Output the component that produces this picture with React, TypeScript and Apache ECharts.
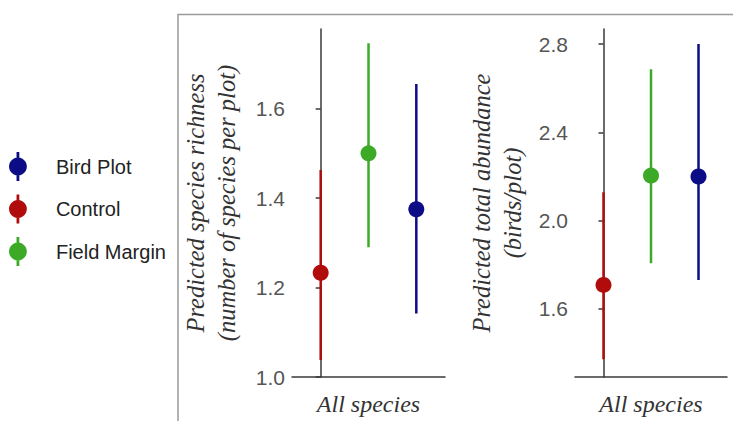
import React, { useEffect, useRef } from "react";
import * as echarts from "echarts";

const groups = ["Bird Plot", "Control", "Field Margin"];
const groupColors = ["#0c0c86", "#b00c0c", "#3caa26"];
const dodgePos = [2, 0, 1];

const richnessMean = [1.375, 1.233, 1.5];
const richnessLow = [1.142, 1.038, 1.29];
const richnessHigh = [1.655, 1.463, 1.746];

const abundanceMean = [2.2, 1.709, 2.204];
const abundanceLow = [1.731, 1.372, 1.807];
const abundanceHigh = [2.8, 2.129, 2.686];

const richnessTicks = [1.0, 1.2, 1.4, 1.6];
const abundanceTicks = [1.6, 2.0, 2.4, 2.8];

const xCategory = "All species";
const richnessTitle = "Predicted species richness\n(number of species per plot)";
const abundanceTitle = "Predicted total abundance\n(birds/plot)";

const legendIcon =
  "path://M6.75,0 L9.25,0 L9.25,26 L6.75,26 Z M8,5 A8,8 0 1 1 7.999,5 Z";

export default function App() {
  const ref = useRef<HTMLDivElement>(null);
  useEffect(() => {
    if (!ref.current) return;
    const chart = echarts.init(ref.current, null, { renderer: "svg" });

    const sans = "Liberation Sans";
    const serif = "Liberation Serif";
    const axisColor = "#3a3a3a";

    const makeX = (gridIndex: number) => ({
      type: "value",
      gridIndex,
      min: -0.6,
      max: 2.6,
      name: xCategory,
      nameLocation: "middle",
      nameGap: 15,
      nameTextStyle: {
        fontFamily: serif,
        fontStyle: "italic",
        fontSize: 24,
        color: "#333333",
      },
      axisLine: { show: true, lineStyle: { color: axisColor, width: 1.5 } },
      axisTick: { show: false },
      axisLabel: { show: false },
      splitLine: { show: false },
    });

    const makeY = (
      gridIndex: number,
      min: number,
      max: number,
      ticks: number[],
      title: string,
      nameGap: number
    ) => ({
      type: "value",
      gridIndex,
      min,
      max,
      name: title,
      nameLocation: "middle",
      nameRotate: 90,
      nameGap,
      nameTextStyle: {
        fontFamily: serif,
        fontStyle: "italic",
        fontSize: 24.5,
        lineHeight: 31,
        color: "#333333",
        align: "center",
      },
      axisLine: { show: true, lineStyle: { color: axisColor, width: 1.5 } },
      axisTick: {
        show: true,
        length: 5,
        customValues: ticks,
        lineStyle: { color: axisColor, width: 1.5 },
      },
      axisLabel: {
        show: true,
        customValues: ticks,
        margin: 7,
        fontFamily: sans,
        fontSize: 21,
        color: "#555555",
        formatter: (v: number) => v.toFixed(1),
      },
      splitLine: { show: false },
    });

    const series: any[] = [];
    const panels = [
      { mean: richnessMean, low: richnessLow, high: richnessHigh },
      { mean: abundanceMean, low: abundanceLow, high: abundanceHigh },
    ];
    panels.forEach((p, pi) => {
      groups.forEach((g, gi) => {
        series.push({
          type: "scatter",
          name: g,
          xAxisIndex: pi,
          yAxisIndex: pi,
          data: [[dodgePos[gi], p.mean[gi]]],
          symbol: "circle",
          symbolSize: 16,
          z: 3,
          itemStyle: { color: groupColors[gi], opacity: 1 },
          silent: true,
        });
        series.push({
          type: "line",
          name: g,
          xAxisIndex: pi,
          yAxisIndex: pi,
          data: [
            [dodgePos[gi], p.low[gi]],
            [dodgePos[gi], p.high[gi]],
          ],
          showSymbol: false,
          symbol: "none",
          z: 2,
          lineStyle: { color: groupColors[gi], width: 2.5 },
          itemStyle: { color: groupColors[gi] },
          silent: true,
        });
      });
    });

    chart.setOption({
      animation: false,
      backgroundColor: "#ffffff",
      grid: [
        { left: 292, top: 29, width: 153, height: 348 },
        { left: 575, top: 29, width: 152, height: 348 },
      ],
      xAxis: [makeX(0), makeX(1)],
      yAxis: [
        makeY(0, 1.0, 1.778, richnessTicks, richnessTitle, 50),
        makeY(1, 1.292, 2.868, abundanceTicks, abundanceTitle, 47),
      ],
      legend: {
        orient: "vertical",
        left: 9,
        top: 152,
        padding: 0,
        itemWidth: 18,
        itemHeight: 29,
        itemGap: 13.5,
        selectedMode: false,
        data: groups.map((g, gi) => ({
          name: g,
          icon: legendIcon,
          itemStyle: { color: groupColors[gi] },
        })),
        textStyle: {
          fontFamily: sans,
          fontSize: 20,
          color: "#222222",
          padding: [0, 0, 0, 24],
        },
      },
      graphic: [
        {
          type: "polyline",
          shape: {
            points: [
              [178, 421],
              [178, 14.5],
              [733, 14.5],
            ],
          },
          style: { stroke: "#9a9a9a", lineWidth: 1.5, fill: null },
          silent: true,
        },
      ],
      series,
    });

    return () => chart.dispose();
  }, []);

  return (
    <div
      ref={ref}
      style={{
        position: "fixed",
        left: 0,
        top: 0,
        width: 733,
        height: 421,
        background: "#fff",
      }}
    />
  );
}
